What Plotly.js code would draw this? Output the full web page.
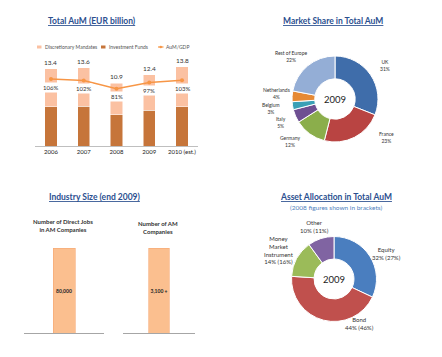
<!DOCTYPE html>
<html><head><meta charset="utf-8">
<script src="https://cdn.plot.ly/plotly-3.0.1.min.js"></script>
<style>html,body{margin:0;padding:0;background:#fff;}#chart{width:442px;height:357px;}</style>
</head><body><div id="chart"></div>
<script>
// ---------------- DATA ----------------
const years = ['2006', '2007', '2008', '2009', '2010 (est.)'];
const discretionaryMandates = [6.6, 6.7, 5.5, 6.2, 7.0];
const investmentFunds = [6.8, 6.9, 5.4, 6.2, 6.8];
const aumToGdp = [106, 102, 81, 97, 103];

const shareCountries = ['UK', 'France', 'Germany', 'Italy', 'Belgium', 'Netherlands', 'Rest of Europe'];
const shareValues = [31, 23, 12, 5, 3, 4, 22];

const industryLabels = ['Number of Direct Jobs<br>in AM Companies', 'Number of AM<br>Companies'];
const industryValues = [80000, 3100];
const industryText = ['80,000', '3,100 +'];

const assetClasses = ['Equity', 'Bond', 'Money<br>Market<br>Instrument', 'Other'];
const asset2009 = [32, 44, 14, 10];
const asset2008 = [27, 46, 16, 11];

// ---------------- STYLE / LAYOUT HELPERS ----------------
const W = 442, H = 357;
const px = x => x / W;
const py = y => 1 - y / H;
const FONT = 'Lato, "Open Sans", sans-serif';
const TITLE_COLOR = '#2B4F8F';
const shareColors = ['#3F6DAA', '#B94442', '#8BAE4B', '#6E4F92', '#3AA0B6', '#E68A35', '#94AED6'];
const assetColors = ['#4A7EBF', '#C0504D', '#9BBB59', '#8064A2'];
// label offsets (pixels) applied to the radial label position, for readability like the original
const shareLabelNudge = [[0, 0], [24, -15], [-10, -6], [1, 0], [-5, 0], [1, -2], [-6, 4]];
const assetLabelNudge = [[2, 7], [40, -14], [-2, 0], [-1, 5]];

const traces = [];
const annotations = [];
const shapes = [];

// ---------- Panel 1: Total AuM ----------
traces.push({
  type: 'bar', x: years, y: investmentFunds, name: 'Investment Funds',
  xaxis: 'x', yaxis: 'y', width: 0.38,
  marker: {color: '#C6753A', line: {color: '#ffffff', width: 0.5}}, hoverinfo: 'none'
});
traces.push({
  type: 'bar', x: years, y: discretionaryMandates, name: 'Discretionary Mandates',
  xaxis: 'x', yaxis: 'y', width: 0.38,
  marker: {color: '#FBC1A2', line: {color: '#ffffff', width: 0.5}}, hoverinfo: 'none'
});
traces.push({
  type: 'scatter', mode: 'lines+markers', x: years, y: aumToGdp, name: 'AuM/GDP',
  xaxis: 'x', yaxis: 'y2',
  line: {color: '#F79646', width: 1.5}, marker: {color: '#F79646', size: 4}, hoverinfo: 'none'
});
years.forEach((yr, i) => {
  const total = discretionaryMandates[i] + investmentFunds[i];
  // category index i is the position of years[i] on the category axis
  annotations.push({
    x: i, y: total, xref: 'x', yref: 'y', yanchor: 'bottom', yshift: 1,
    text: total.toFixed(1), showarrow: false, font: {size: 6.5, color: '#333', family: FONT}
  });
  annotations.push({
    x: i, y: aumToGdp[i], xref: 'x', yref: 'y2', yanchor: 'middle', yshift: -8,
    text: aumToGdp[i] + '%', showarrow: false, bgcolor: '#ffffff', borderpad: 1,
    font: {size: 6, color: '#333', family: FONT}
  });
});
// legend (drawn as text + swatches)
const legendItems = [
  {name: 'Discretionary Mandates', color: '#FBC1A2', x: 37, kind: 'box'},
  {name: 'Investment Funds', color: '#C6753A', x: 101, kind: 'box'},
  {name: 'AuM/GDP', color: '#F79646', x: 158, kind: 'line'}
];
legendItems.forEach(it => {
  if (it.kind === 'box') {
    shapes.push({type: 'rect', xref: 'paper', yref: 'paper', x0: px(it.x), x1: px(it.x + 4.5),
      y0: py(48.5), y1: py(45.5), fillcolor: it.color, line: {width: 0}});
  } else {
    shapes.push({type: 'line', xref: 'paper', yref: 'paper', x0: px(it.x), x1: px(it.x + 5.5),
      y0: py(47), y1: py(47), line: {color: it.color, width: 1.2}});
    shapes.push({type: 'circle', xref: 'paper', yref: 'paper', x0: px(it.x + 1.5), x1: px(it.x + 4),
      y0: py(48.3), y1: py(45.8), fillcolor: it.color, line: {width: 0}});
  }
  annotations.push({xref: 'paper', yref: 'paper', x: px(it.x + 6), y: py(47), xanchor: 'left', yanchor: 'middle',
    text: it.name, showarrow: false, font: {size: 5, color: '#555', family: FONT}});
});

// ---------- Panel 3: Industry Size ----------
const industryAxes = [
  {xa: 'x3', ya: 'y3', dom: [24, 104], w: 0.275, ty: 225},
  {xa: 'x4', ya: 'y4', dom: [123, 195], w: 0.28, ty: 227.5}
];
industryValues.forEach((v, i) => {
  traces.push({
    type: 'bar', x: [industryLabels[i]], y: [v], text: [industryText[i]],
    xaxis: industryAxes[i].xa, yaxis: industryAxes[i].ya, width: industryAxes[i].w,
    textposition: 'inside', insidetextanchor: 'middle', textangle: 0, constraintext: 'none',
    textfont: {size: 5, color: '#222', family: FONT, weight: 'bold'},
    marker: {color: '#FBBF8F', line: {color: '#F6A873', width: 0.6}}, hoverinfo: 'none'
  });
  annotations.push({
    xref: 'paper', yref: 'paper', x: px((industryAxes[i].dom[0] + industryAxes[i].dom[1]) / 2 - 1),
    y: py(industryAxes[i].ty), xanchor: 'center', yanchor: 'middle', showarrow: false,
    text: '<b>' + industryLabels[i] + '</b>', font: {size: 6, color: '#333', family: FONT}
  });
});

// ---------- Pies ----------
function pieLabels(values, texts, cx, cy, R, nudge, fontSize) {
  const total = values.reduce((a, b) => a + b, 0);
  let cum = 0;
  values.forEach((v, i) => {
    const mid = (cum + v / 2) / total * 2 * Math.PI;
    cum += v;
    const lx = cx + R * Math.sin(mid) + nudge[i][0];
    const ly = cy - R * Math.cos(mid) + nudge[i][1];
    annotations.push({xref: 'paper', yref: 'paper', x: px(lx), y: py(ly), xanchor: 'center', yanchor: 'middle',
      text: texts[i], showarrow: false, font: {size: fontSize, color: '#333', family: FONT}});
  });
}

traces.push({
  type: 'pie', labels: shareCountries, values: shareValues, sort: false, direction: 'clockwise', rotation: 0,
  hole: 0.47, domain: {x: [px(292), px(378)], y: [py(142), py(56)]},
  marker: {colors: shareColors, line: {color: '#ffffff', width: 1}},
  textinfo: 'none', hoverinfo: 'none', showlegend: false,
  title: {text: '2009', position: 'middle center', font: {size: 9.5, color: '#222', family: FONT}}
});
pieLabels(shareValues, shareCountries.map((c, i) => c + '<br>' + shareValues[i] + '%'), 335, 99, 60, shareLabelNudge, 5);

traces.push({
  type: 'pie', labels: assetClasses, values: asset2009, sort: false, direction: 'clockwise', rotation: 0,
  hole: 0.47, domain: {x: [px(291.5), px(376.5)], y: [py(321.5), py(236.5)]},
  marker: {colors: assetColors, line: {color: '#ffffff', width: 1}},
  textinfo: 'none', hoverinfo: 'none', showlegend: false,
  title: {text: '2009', position: 'middle center', font: {size: 9.5, color: '#222', family: FONT}}
});
pieLabels(asset2009, assetClasses.map((c, i) => c + '<br>' + asset2009[i] + '% (' + asset2008[i] + '%)'), 334, 279, 60, assetLabelNudge, 6);

// ---------- Titles ----------
const titles = [
  {t: 'Total AuM (EUR billion)', x: 91.5, y: 20.5},
  {t: 'Market Share in Total AuM', x: 333, y: 20.5},
  {t: 'Industry Size (end 2009)', x: 94.5, y: 196.5},
  {t: 'Asset Allocation in Total AuM', x: 336, y: 197}
];
titles.forEach(o => annotations.push({
  xref: 'paper', yref: 'paper', x: px(o.x), y: py(o.y), xanchor: 'center', yanchor: 'middle', showarrow: false,
  text: '<b><u>' + o.t + '</u></b>', font: {size: 8.5, color: TITLE_COLOR, family: FONT}
}));
annotations.push({
  xref: 'paper', yref: 'paper', x: px(335.5), y: py(207.5), xanchor: 'center', yanchor: 'middle', showarrow: false,
  text: '(2008 figures shown in brackets)', font: {size: 6.5, color: '#4F81BD', family: FONT}
});

const hidden = {visible: false, fixedrange: true};
const layout = {
  width: W, height: H, margin: {l: 0, r: 0, t: 0, b: 0},
  paper_bgcolor: '#ffffff', plot_bgcolor: 'rgba(0,0,0,0)',
  showlegend: false, barmode: 'stack', font: {family: FONT},
  xaxis: {domain: [px(34.6), px(198.4)], anchor: 'y', type: 'category', range: [-0.5, years.length - 0.5],
    autorange: false, showline: true, linecolor: '#BFBFBF',
    linewidth: 1, ticks: '', showgrid: false, zeroline: false, fixedrange: true,
    tickfont: {size: 6, color: '#222', family: FONT}},
  yaxis: Object.assign({domain: [py(146), py(56)], range: [0, 15.65], autorange: false, anchor: 'x'}, hidden),
  yaxis2: Object.assign({overlaying: 'y', range: [-66.7, 165.3], autorange: false, anchor: 'x'}, hidden),
  xaxis3: {domain: [px(24), px(104)], anchor: 'y3', showline: true, linecolor: '#A6A6A6', linewidth: 1,
    showticklabels: false, ticks: '', showgrid: false, zeroline: false, fixedrange: true},
  yaxis3: Object.assign({domain: [py(333), py(248)], range: [0, industryValues[0]], autorange: false, anchor: 'x3'}, hidden),
  xaxis4: {domain: [px(123), px(195)], anchor: 'y4', showline: true, linecolor: '#A6A6A6', linewidth: 1,
    showticklabels: false, ticks: '', showgrid: false, zeroline: false, fixedrange: true},
  yaxis4: Object.assign({domain: [py(333), py(248)], range: [0, industryValues[1]], autorange: false, anchor: 'x4'}, hidden),
  annotations: annotations, shapes: shapes
};
Plotly.newPlot('chart', traces, layout, {staticPlot: true, displayModeBar: false});
</script>
</body></html>
